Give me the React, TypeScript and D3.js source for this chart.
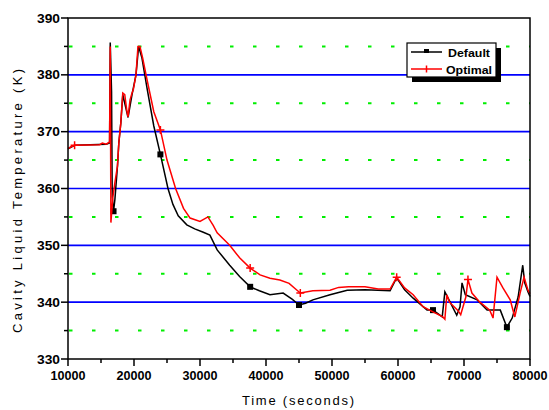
import React from "react";
import * as d3 from "d3";

// time (s), temperature (K)
const defaultT = [10000, 11000, 15800, 16300, 16400, 16600, 16700, 16900, 17100, 17500, 17700, 18000, 18300, 18900, 19100, 19700, 20300, 20700, 21200, 22000, 23000, 24000, 25150, 25900, 26700, 28000, 29200, 30500, 31500, 32600, 34500, 36000, 37600, 39000, 40600, 42600, 44000, 45000, 46000, 47100, 49700, 52300, 55000, 58800, 59800, 61000, 62300, 64400, 65300, 66700, 67100, 67900, 68900, 69400, 69700, 70200, 72000, 73500, 75500, 76500, 77300, 78200, 78900, 79200, 79700, 80000];
const defaultV = [367.0, 367.6, 367.8, 368.0, 385.7, 377, 358.5, 356, 358, 364, 368, 371.5, 376.5, 373.5, 372.5, 376.5, 380, 385, 383, 377.5, 371, 366, 360, 357.2, 355.2, 353.6, 352.9, 352.3, 351.8, 349.2, 346.5, 344.5, 342.7, 342, 341.3, 341.6, 340.5, 339.5, 339.8, 340.4, 341.3, 342.1, 342.2, 342.0, 344.3, 342.2, 340.7, 338.6, 338.6, 337.4, 341.8, 340, 337.7, 339.2, 343.4, 341.3, 340.4, 338.6, 338.6, 335.6, 337.2, 340.9, 346.5, 343.4, 341.8, 341];
const defaultMarks = [7, 21, 32, 37, 48, 59];

const optimalT = [10000, 10400, 11000, 14800, 15200, 15800, 16300, 16400, 16500, 16800, 17100, 17500, 17700, 18000, 18300, 18600, 18900, 19100, 19400, 19700, 19900, 20300, 20600, 20900, 21300, 22000, 23000, 24000, 25000, 26300, 27500, 28500, 30000, 31200, 32000, 32600, 34500, 36000, 37600, 39100, 40600, 42100, 43500, 44700, 45200, 47100, 49700, 51000, 52500, 55000, 57000, 58800, 59800, 61000, 62300, 63800, 65300, 66800, 67100, 67400, 67800, 68500, 69100, 69500, 70300, 70600, 71200, 72400, 73900, 74400, 75000, 75900, 77000, 77700, 78500, 79100, 79700, 80000];
const optimalV = [367.0, 367.3, 367.6, 367.7, 368.0, 367.8, 368.2, 385.0, 354.0, 358.5, 361.0, 364, 368, 371.5, 376.8, 376.5, 373.8, 372.6, 375.6, 376.8, 377.4, 380, 385.0, 385, 383, 379, 373.5, 370.3, 365, 360, 356.5, 354.8, 354.2, 355, 353.5, 352.2, 350, 347.8, 346, 344.8, 344.2, 343.9, 343.3, 342.1, 341.6, 342, 342.1, 342.6, 342.7, 342.7, 342.3, 342.3, 344.4, 342.5, 341.3, 339.2, 338.3, 337.4, 337.0, 341.3, 340, 339.2, 338.5, 337.8, 341, 344, 341.6, 340, 338.6, 337.2, 344.4, 342.5, 340.4, 337.4, 341.6, 344.4, 342.1, 341.5];
const optimalMarks = [2, 27, 38, 44, 52, 65];

const xTicks = [10000, 20000, 30000, 40000, 50000, 60000, 70000, 80000];
const xMinor = [15000, 25000, 35000, 45000, 55000, 65000, 75000];
const yTicks = [330, 340, 350, 360, 370, 380, 390];
const yMinor = [335, 345, 355, 365, 375, 385];
const blueLines = [340, 350, 360, 370, 380];

const W = 549;
const H = 410;
const m = { left: 68, right: 19, top: 18, bottom: 51 };
const font = "'Liberation Sans', Arial, sans-serif";

export default function App() {
  const x = d3.scaleLinear().domain([10000, 80000]).range([m.left, W - m.right]);
  const y = d3.scaleLinear().domain([330, 390]).range([H - m.bottom, m.top]);
  const line = d3.line<[number, number]>().x((d) => x(d[0])).y((d) => y(d[1]));
  const def = defaultT.map((t, i) => [t, defaultV[i]] as [number, number]);
  const opt = optimalT.map((t, i) => [t, optimalV[i]] as [number, number]);
  const x0 = m.left, x1 = W - m.right, y0 = m.top, y1 = H - m.bottom;

  return (
    <svg width={W} height={H} style={{ position: "absolute", left: 0, top: 0, background: "#fff" }}>
      {yMinor.map((v) => (
        <line key={"g" + v} x1={x0 + 1} x2={x1} y1={y(v)} y2={y(v)} stroke="#00ee00" strokeWidth={2} strokeDasharray="3.5 19.5" />
      ))}
      {blueLines.map((v) => (
        <line key={"b" + v} x1={x0} x2={x1} y1={y(v)} y2={y(v)} stroke="#0000ff" strokeWidth={1.6} />
      ))}
      <path d={line(def) || ""} fill="none" stroke="#000" strokeWidth={1.5} />
      {defaultMarks.map((i) => (
        <rect key={"dm" + i} x={x(def[i][0]) - 3} y={y(def[i][1]) - 3} width={6} height={6} fill="#000" />
      ))}
      <path d={line(opt) || ""} fill="none" stroke="#ff0000" strokeWidth={1.5} />
      {optimalMarks.map((i) => (
        <path key={"om" + i} d={`M${x(opt[i][0]) - 4},${y(opt[i][1])}h8M${x(opt[i][0])},${y(opt[i][1]) - 4}v8`} stroke="#ff0000" strokeWidth={1.5} />
      ))}
      {/* frame */}
      <rect x={x0} y={y0} width={x1 - x0} height={y1 - y0} fill="none" stroke="#000" strokeWidth={1.5} />
      {/* y ticks */}
      {yTicks.map((v) => (
        <g key={"yt" + v}>
          <line x1={x0 - 7} x2={x0} y1={y(v)} y2={y(v)} stroke="#000" strokeWidth={1.5} />
          <text x={x0 - 8} y={y(v) + 4.5} textAnchor="end" fontFamily={font} fontSize={12.5} fontWeight="bold" textLength={23} lengthAdjust="spacingAndGlyphs">{v}</text>
        </g>
      ))}
      {yMinor.map((v) => (
        <line key={"ym" + v} x1={x0 - 4} x2={x0} y1={y(v)} y2={y(v)} stroke="#000" strokeWidth={1.5} />
      ))}
      {xTicks.map((v) => (
        <g key={"xt" + v}>
          <line x1={x(v)} x2={x(v)} y1={y1} y2={y1 + 7} stroke="#000" strokeWidth={1.5} />
          <text x={x(v)} y={y1 + 21} textAnchor="middle" fontFamily={font} fontSize={12.5} fontWeight="bold" textLength={35} lengthAdjust="spacingAndGlyphs">{v}</text>
        </g>
      ))}
      {xMinor.map((v) => (
        <line key={"xm" + v} x1={x(v)} x2={x(v)} y1={y1} y2={y1 + 4} stroke="#000" strokeWidth={1.5} />
      ))}
      {/* axis titles */}
      <text x={298} y={405} textAnchor="middle" fontFamily={font} fontSize={13} textLength={112} lengthAdjust="spacing">Time (seconds)</text>
      <text transform="translate(22,201) rotate(-90)" textAnchor="middle" fontFamily={font} fontSize={13} textLength={264} lengthAdjust="spacing">Cavity Liquid Temperature (K)</text>
      {/* legend */}
      <rect x={412} y={48} width={89} height={34} fill="#000" />
      <rect x={407} y={43} width={89} height={34} fill="#fff" stroke="#000" strokeWidth={1.2} />
      <line x1={411} x2={442} y1={52} y2={52} stroke="#000" strokeWidth={1.5} />
      <rect x={424} y={49} width={5} height={4} fill="#000" />
      <text x={448} y={56.5} fontFamily={font} fontSize={11.5} fontWeight="bold" textLength={42} lengthAdjust="spacingAndGlyphs">Default</text>
      <line x1={411} x2={442} y1={69} y2={69} stroke="#ff0000" strokeWidth={1.5} />
      <line x1={426.5} x2={426.5} y1={65.5} y2={72.5} stroke="#ff0000" strokeWidth={1.5} />
      <text x={446} y={73.5} fontFamily={font} fontSize={11.5} fontWeight="bold" textLength={46} lengthAdjust="spacingAndGlyphs">Optimal</text>
    </svg>
  );
}
